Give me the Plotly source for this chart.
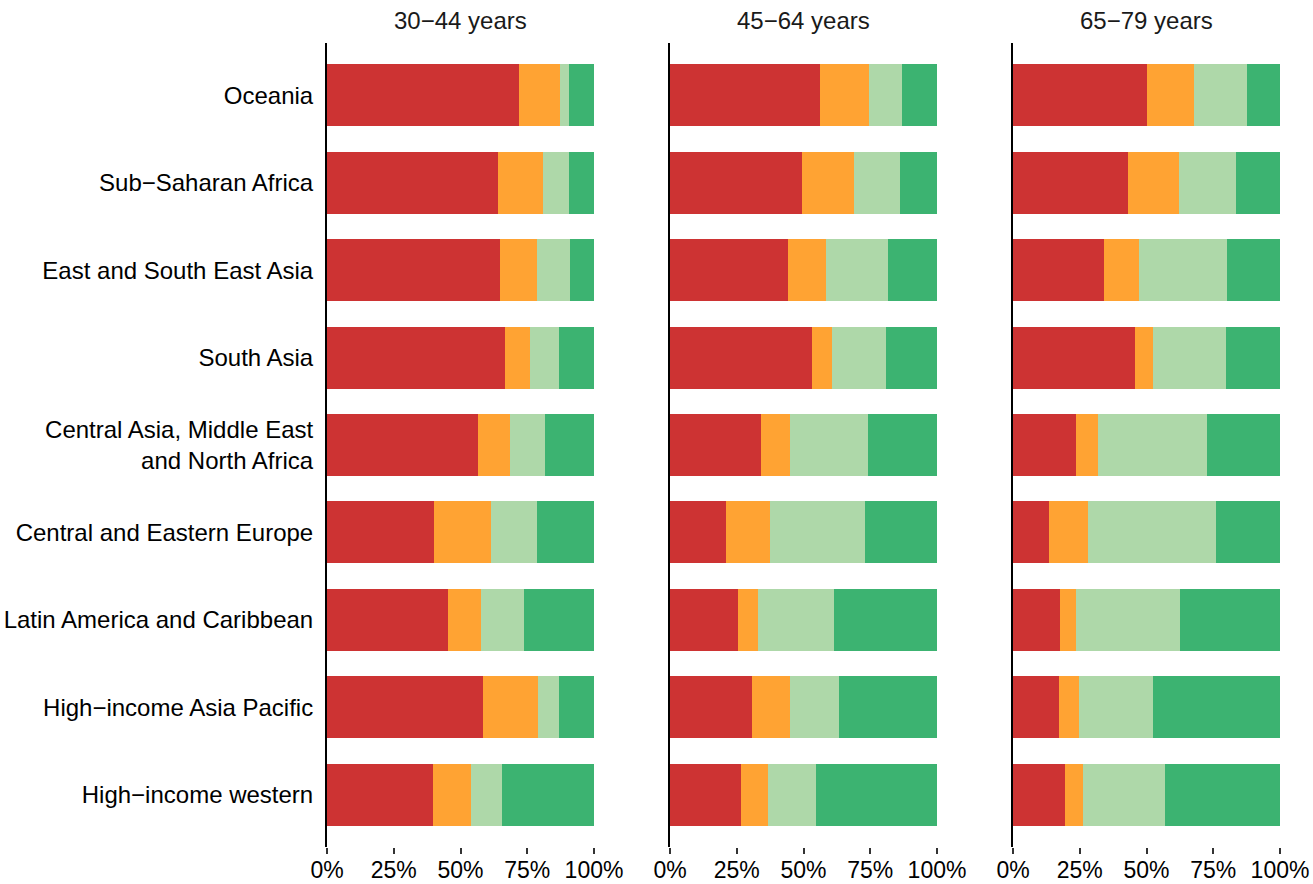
import plotly.graph_objects as go

# Regions, top to bottom
regions = [
    "Oceania",
    "Sub\u2212Saharan Africa",
    "East and South East Asia",
    "South Asia",
    "Central Asia, Middle East<br>and North Africa",
    "Central and Eastern Europe",
    "Latin America and Caribbean",
    "High\u2212income Asia Pacific",
    "High\u2212income western",
]

age_groups = ["30\u221244 years", "45\u221264 years", "65\u221279 years"]

series_names = ["Group 1", "Group 2", "Group 3", "Group 4"]
series_colors = ["#CD3333", "#FFA333", "#AED8A9", "#3CB371"]

# Shares (%) per region, one list per series, for each age group
g30_s1 = [71.9, 64.2, 64.8, 66.7, 56.7, 40.1, 45.3, 58.6, 39.6]
g30_s2 = [15.4, 16.8, 13.9, 9.4, 12.0, 21.3, 12.4, 20.5, 14.2]
g30_s3 = [3.4, 9.7, 12.3, 10.9, 13.1, 17.2, 16.1, 7.9, 11.6]
g30_s4 = [9.3, 9.3, 9.0, 13.0, 18.2, 21.4, 26.2, 13.0, 34.6]

g45_s1 = [56.2, 49.4, 44.2, 53.2, 34.1, 21.0, 25.5, 30.7, 26.6]
g45_s2 = [18.4, 19.5, 14.2, 7.5, 10.9, 16.5, 7.5, 14.2, 10.1]
g45_s3 = [12.4, 17.2, 23.2, 20.2, 29.2, 35.6, 28.5, 18.4, 18.0]
g45_s4 = [13.0, 13.9, 18.4, 19.1, 25.8, 26.9, 38.5, 36.7, 45.3]

g65_s1 = [50.2, 43.1, 34.1, 45.7, 23.6, 13.5, 17.6, 17.2, 19.5]
g65_s2 = [17.6, 19.1, 13.1, 6.7, 8.2, 14.6, 6.0, 7.5, 6.7]
g65_s3 = [19.9, 21.3, 33.0, 27.3, 40.8, 47.9, 39.0, 27.7, 30.7]
g65_s4 = [12.3, 16.5, 19.8, 20.3, 27.4, 24.0, 37.4, 47.6, 43.1]

panels = [
    [g30_s1, g30_s2, g30_s3, g30_s4],
    [g45_s1, g45_s2, g45_s3, g45_s4],
    [g65_s1, g65_s2, g65_s3, g65_s4],
]

tick_vals = [0, 25, 50, 75, 100]
tick_text = ["0%", "25%", "50%", "75%", "100%"]

W, H = 1313, 884
FONT = "Liberation Sans, Arial, Helvetica, sans-serif"
panel_px = [(327, 594), (670, 937), (1013, 1280)]

fig = go.Figure()
for p, series in enumerate(panels):
    suffix = "" if p == 0 else str(p + 1)
    for name, color, vals in zip(series_names, series_colors, series):
        fig.add_trace(go.Bar(
            x=vals, y=list(range(len(regions))), orientation="h",
            name=name, marker=dict(color=color, line=dict(width=0)),
            width=0.71, showlegend=False,
            xaxis="x" + suffix, yaxis="y" + suffix,
        ))

layout = dict(
    width=W, height=H,
    margin=dict(l=0, r=0, t=43, b=37, autoexpand=False),
    barmode="stack",
    paper_bgcolor="white", plot_bgcolor="white",
    font=dict(family=FONT, size=24, color="#000000"),
    annotations=[],
)

for p in range(3):
    suffix = "" if p == 0 else str(p + 1)
    x0, x1 = panel_px[p]
    layout["xaxis" + suffix] = dict(
        domain=[x0 / W, x1 / W], range=[0, 100],
        anchor="y" + suffix, automargin=False,
        tickvals=tick_vals, ticktext=tick_text,
        ticks="outside", ticklen=6, tickwidth=1.5, tickcolor="#333333",
        ticklabelstandoff=-4,
        showline=False, showgrid=False, zeroline=False,
        tickfont=dict(size=23, color="#000000"),
        fixedrange=True,
    )
    layout["yaxis" + suffix] = dict(
        domain=[0, 1], anchor="x" + suffix, automargin=False,
        range=[len(regions) - 0.4, -0.6],
        tickvals=list(range(len(regions))),
        ticktext=regions if p == 0 else [""] * len(regions),
        showticklabels=(p == 0),
        ticks="", ticklabelstandoff=7,
        showline=True, linecolor="#000000", linewidth=2,
        showgrid=False, zeroline=False,
        tickfont=dict(size=24, color="#000000"),
        fixedrange=True,
    )
    layout["annotations"].append(dict(
        text=age_groups[p], xref="x" + suffix + " domain", yref="paper",
        x=0.5, y=1, xanchor="center", yanchor="middle", yshift=23,
        showarrow=False, font=dict(size=24, color="#1A1A1A"),
    ))

fig.update_layout(**layout)
fig.write_html("out.html")
